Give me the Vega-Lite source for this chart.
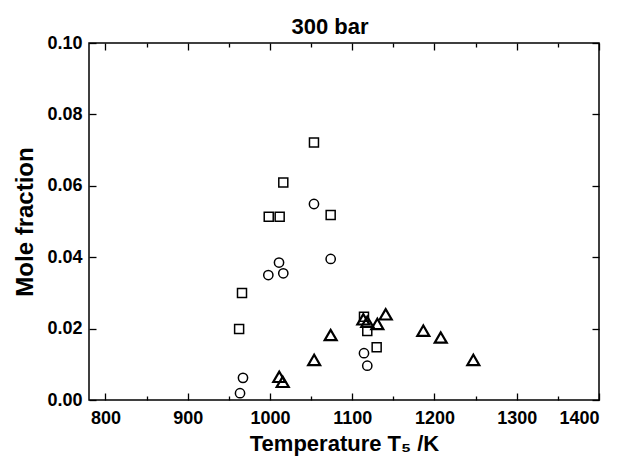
{
  "$schema": "https://vega.github.io/schema/vega-lite/v6.json",
  "width": 510,
  "height": 357,
  "autosize": {"type": "none"},
  "padding": {"left": 89, "top": 43, "right": 22, "bottom": 59},
  "background": "white",
  "config": {
    "view": {"stroke": "black", "strokeWidth": 1.5},
    "font": "Liberation Sans",
    "axis": {"domain": false, "grid": false, "tickColor": "black", "tickWidth": 1.3, "labelColor": "black", "titleColor": "black", "labelFont": "Liberation Sans", "titleFont": "Liberation Sans", "labelFontWeight": "bold", "titleFontWeight": "bold", "labelFontSize": 18, "titleFontSize": 22},
    "title": {"fontSize": 22, "fontWeight": "bold", "font": "Liberation Sans", "color": "black"}
  },
  "title": {"text": "300 bar", "fontSize": 22, "fontWeight": "bold", "font": "Liberation Sans", "color": "black", "offset": -5, "dx": -14, "anchor": "middle"},
  "data": {
    "values": [
      {"T": 962.5, "x": 0.0199, "s": "sq"},
      {"T": 966, "x": 0.030, "s": "sq"},
      {"T": 998.5, "x": 0.0513, "s": "sq"},
      {"T": 1011.8, "x": 0.0513, "s": "sq"},
      {"T": 1016.2, "x": 0.0609, "s": "sq"},
      {"T": 1053.5, "x": 0.0721, "s": "sq"},
      {"T": 1073.8, "x": 0.0518, "s": "sq"},
      {"T": 1114.3, "x": 0.0233, "s": "sq"},
      {"T": 1118.3, "x": 0.0193, "s": "sq"},
      {"T": 1129.7, "x": 0.0148, "s": "sq"},
      {"T": 963.6, "x": 0.0019, "s": "ci"},
      {"T": 967.2, "x": 0.0062, "s": "ci"},
      {"T": 998, "x": 0.035, "s": "ci"},
      {"T": 1011, "x": 0.0385, "s": "ci"},
      {"T": 1016.2, "x": 0.0355, "s": "ci"},
      {"T": 1053.5, "x": 0.0549, "s": "ci"},
      {"T": 1073.8, "x": 0.0395, "s": "ci"},
      {"T": 1114.3, "x": 0.0131, "s": "ci"},
      {"T": 1118.3, "x": 0.0096, "s": "ci"},
      {"T": 1011.3, "x": 0.0065, "s": "tr"},
      {"T": 1015.5, "x": 0.0051, "s": "tr"},
      {"T": 1053.7, "x": 0.0112, "s": "tr"},
      {"T": 1073.8, "x": 0.0182, "s": "tr"},
      {"T": 1113.5, "x": 0.0226, "s": "tr"},
      {"T": 1118.3, "x": 0.0219, "s": "tr"},
      {"T": 1130.5, "x": 0.0213, "s": "tr"},
      {"T": 1140.7, "x": 0.024, "s": "tr"},
      {"T": 1186.4, "x": 0.0194, "s": "tr"},
      {"T": 1207.6, "x": 0.0175, "s": "tr"},
      {"T": 1247.2, "x": 0.0112, "s": "tr"}
    ]
  },
  "layer": [
    {
      "transform": [{"filter": "datum.s === 'sq'"}],
      "mark": {"type": "point", "shape": "square", "size": 81, "filled": false, "stroke": "black", "strokeWidth": 1.5, "opacity": 1},
      "encoding": {
        "x": {"field": "T", "type": "quantitative", "scale": {"domain": [780, 1400], "nice": false, "zero": false},
              "axis": {"orient": "bottom", "values": [800, 900, 1000, 1100, 1200, 1300, 1400], "format": "d", "tickSize": -7, "labelPadding": 16, "title": "Temperature T₅ /K", "titlePadding": 6}},
        "y": {"field": "x", "type": "quantitative", "scale": {"domain": [0, 0.1], "nice": false},
              "axis": {"orient": "left", "values": [0, 0.02, 0.04, 0.06, 0.08, 0.1], "format": ".2f", "tickSize": -7, "labelPadding": 14, "title": "Mole fraction", "titleFontSize": 24, "titlePadding": 9}}
      }
    },
    {
      "transform": [{"filter": "datum.s === 'ci'"}],
      "mark": {"type": "point", "shape": "circle", "size": 86, "filled": false, "stroke": "black", "strokeWidth": 1.5, "opacity": 1},
      "encoding": {
        "x": {"field": "T", "type": "quantitative", "axis": {"orient": "top", "values": [800, 900, 1000, 1100, 1200, 1300, 1400], "tickSize": -7, "labels": false, "title": null}},
        "y": {"field": "x", "type": "quantitative", "axis": {"orient": "right", "values": [0, 0.02, 0.04, 0.06, 0.08, 0.1], "tickSize": -7, "labels": false, "title": null}}
      }
    },
    {
      "transform": [{"filter": "datum.s === 'tr'"}],
      "mark": {"type": "point", "shape": "triangle-up", "size": 144, "filled": false, "stroke": "black", "strokeWidth": 2.2, "opacity": 1},
      "encoding": {
        "x": {"field": "T", "type": "quantitative", "axis": {"orient": "bottom", "values": [850, 950, 1050, 1150, 1250, 1350], "tickSize": -4, "labels": false, "title": null}},
        "y": {"field": "x", "type": "quantitative", "axis": null}
      }
    },
    {
      "transform": [{"filter": "datum.s === 'tr'"}],
      "mark": {"type": "point", "shape": "triangle-up", "size": 144, "filled": false, "opacity": 0},
      "encoding": {
        "x": {"field": "T", "type": "quantitative", "axis": {"orient": "top", "values": [850, 950, 1050, 1150, 1250, 1350], "tickSize": -4, "labels": false, "title": null}},
        "y": {"field": "x", "type": "quantitative", "axis": null}
      }
    }
  ],
  "resolve": {"axis": {"x": "independent", "y": "independent"}}
}
